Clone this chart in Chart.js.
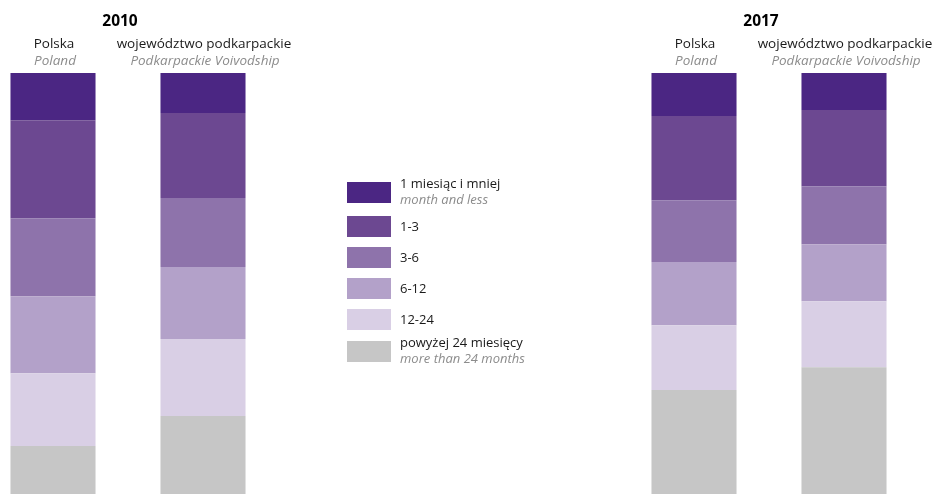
<!DOCTYPE html>
<html>
<head>
<meta charset="utf-8">
<script src="https://cdn.jsdelivr.net/npm/chart.js@4.4.0/dist/chart.umd.min.js"></script>
<style>
  html, body { margin: 0; padding: 0; background: #fff; }
  #wrap { position: relative; width: 932px; height: 494px; font-family: "Open Sans", sans-serif; }
  #legend { position: absolute; left: 347px; top: 180px; }
  .item { position: relative; height: 31px; }
  .sw { position: absolute; left: 0; width: 44px; height: 21px; }
  .lbl { position: absolute; left: 53px; font-size: 13px; color: #1a1a1a; line-height: 16px; white-space: nowrap; }
  .lbl i { color: #8c8c8c; }
</style>
</head>
<body>
<div id="wrap">
  <canvas id="chart" width="932" height="494"></canvas>
  <div id="legend"></div>
</div>
<script>
// Years and regions
const years = ['2010', '2017'];
const regions = ['Polska', 'województwo podkarpackie'];
const regionsEn = ['Poland', 'Podkarpackie Voivodship'];

// Duration classes, top of bar first
const durations = ['1 miesiąc i mniej', '1-3', '3-6', '6-12', '12-24', 'powyżej 24 miesięcy'];
const durationsEn = ['month and less', '', '', '', '', 'more than 24 months'];
const colors = ['#4b2683', '#6c4891', '#8e73ab', '#b3a1c9', '#d9cfe5', '#c6c6c6'];

// Share of unemployed (%), [2010, 2017], same order as durations
const polska = [
  [11.2, 10.2],
  [23.3, 20.0],
  [18.5, 14.7],
  [18.3, 15.0],
  [17.3, 15.4],
  [11.4, 24.7]
];
const podkarpackie = [
  [9.5, 8.8],
  [20.2, 18.1],
  [16.4, 13.8],
  [17.1, 13.5],
  [18.3, 15.7],
  [18.5, 30.1]
];

// stacked bars start at the bottom, so go through the classes in reverse
const datasets = [];
[polska, podkarpackie].forEach((series, r) => {
  for (let i = durations.length - 1; i >= 0; i--) {
    datasets.push({
      label: durations[i],
      data: series[i],
      backgroundColor: colors[i],
      stack: 'r' + r,
      regionIndex: r
    });
  }
});

// Year and region names above the bars
const headers = {
  id: 'headers',
  afterDraw(chart) {
    const c = chart.ctx;
    const xs = chart.scales.x;
    c.save();
    c.textAlign = 'center';
    c.textBaseline = 'alphabetic';
    years.forEach((y, j) => {
      c.fillStyle = '#000';
      c.font = 'bold 15.5px "Open Sans"';
      c.fillText(y, xs.getPixelForValue(j) - 8, 26);
    });
    regions.forEach((name, r) => {
      const idx = chart.data.datasets.findIndex(d => d.regionIndex === r);
      chart.getDatasetMeta(idx).data.forEach(bar => {
        c.fillStyle = '#1a1a1a';
        c.font = '13.5px "Open Sans"';
        c.fillText(name, bar.x + 1, 48);
        c.fillStyle = '#8c8c8c';
        c.font = 'italic 13.5px "Open Sans"';
        c.fillText(regionsEn[r], bar.x + 2, 65);
      });
    });
    c.restore();
  }
};

new Chart(document.getElementById('chart'), {
  type: 'bar',
  data: { labels: years, datasets: datasets },
  options: {
    responsive: false,
    animation: false,
    layout: { padding: { top: 73, bottom: 0, left: 128, right: 163 } },
    datasets: {
      bar: { clip: false, borderWidth: 0, categoryPercentage: 0.468, barPercentage: 0.567 }
    },
    scales: {
      x: { display: false, offset: false, stacked: true },
      y: { display: false, stacked: true, min: 0, max: 100 }
    },
    plugins: { legend: { display: false }, tooltip: { enabled: false } }
  },
  plugins: [headers]
});

// Legend in the middle
const legend = document.getElementById('legend');
durations.forEach((d, i) => {
  const item = document.createElement('div');
  item.className = 'item';
  const two = durationsEn[i] !== '';
  item.innerHTML = '<div class="sw" style="background:' + colors[i] + ';top:' + (two ? 2 : 5) + 'px"></div>' +
    '<div class="lbl" style="top:' + (two ? -5 : 7) + 'px">' + d + (two ? '<br><i>' + durationsEn[i] + '</i>' : '') + '</div>';
  if (i === durations.length - 1) item.style.marginTop = '4px';
  legend.appendChild(item);
});
</script>
</body>
</html>
